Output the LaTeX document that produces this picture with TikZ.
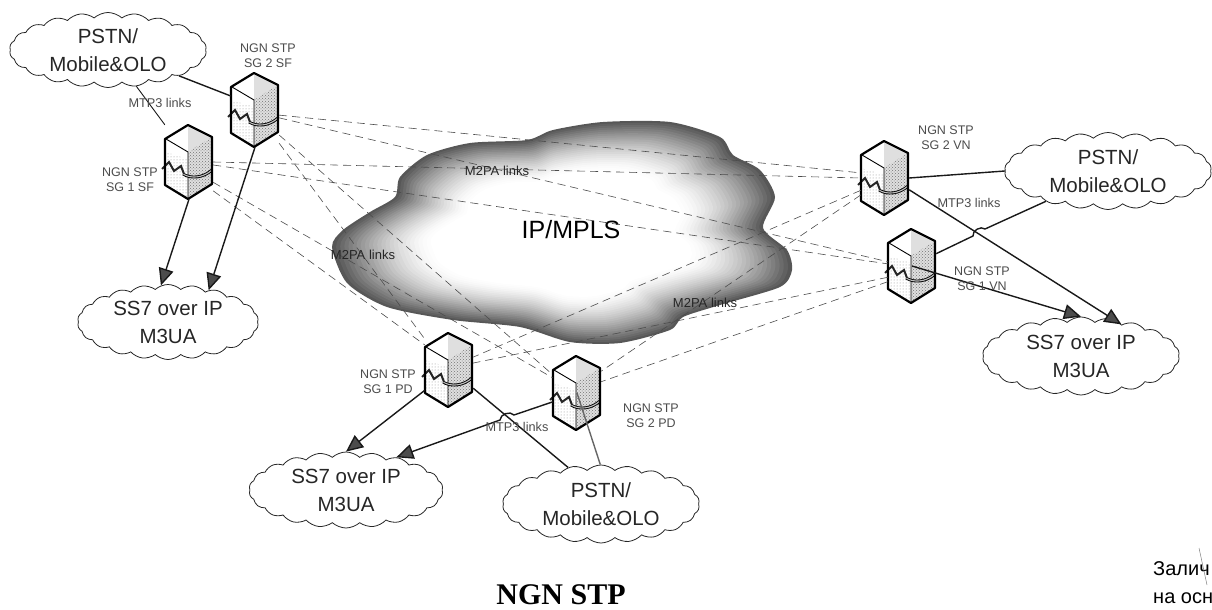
\documentclass[tikz,border=0pt]{standalone}
\usepackage{fontspec}
\setmainfont{Liberation Sans}
\newfontfamily\titlefont{Liberation Serif}
\usetikzlibrary{shapes.symbols,arrows.meta,patterns}

\newcommand{\stpserver}[3]{%
  \node [stpbox] (#1) at (#2,#3) {};
  \begin{scope}[shift={(#2,#3)}]
    \fill [gray!25] (-1,-37) -- (23,-25) -- (23,22) -- (-1,37) -- cycle;
    \fill [pattern=crosshatch dots, pattern color=black!55] (-1,-10) -- (23,-25) -- (23,22) -- (-1,37) -- cycle;
    \fill [pattern=dots, pattern color=black!45] (-24,-10) -- (-1,-3) -- (-1,37) -- (-24,23) -- cycle;
    \draw [line width=.9pt] (-23,-23) -- (-1,-10) -- (-1,36);
    \draw [stpband] (-6,12) .. controls (2,17) and (14,16) .. (23,8);
    \draw [stpflash] (-27,7) -- (-20,0) -- (-15,9) -- (-8,4) -- (-5,12);
    \draw [stpedge] (-1,-37) -- (23,-25) -- (23,22) -- (-1,37) -- (-24,23) -- (-24,-23) -- cycle;
  \end{scope}}
\newcommand{\ipoutline}{plot [smooth cycle, tension=.45] coordinates {(332,247) (343,230) (370,212)
  (395,197) (400,177) (427,155) (470,143) (527,140) (553,130) (603,122) (670,122) (720,137)
  (733,155) (760,170) (775,197) (763,228) (787,250) (792,270) (780,287) (720,305) (683,317)
  (670,330) (620,343) (570,342) (520,327) (453,320) (387,307) (347,283)}}

\begin{document}
\begin{tikzpicture}[x=1pt, y=-1pt,
    stpbox/.style={rectangle, minimum width=48, minimum height=74, inner sep=0},
    stpedge/.style={line width=2.2pt, line join=round},
    stpband/.style={line width=.9pt, double=gray!50, double distance=1.1pt},
    stpflash/.style={line width=2pt, black!85},
    netcloud/.style={cloud, cloud ignores aspect, cloud puffs=22, cloud puff arc=85, draw=black!85,
      line width=.8pt, inner sep=0, align=center, font=\fontsize{20.5}{28}\selectfont, text=black!85},
    m2pa/.style={dash pattern=on 8pt off 5pt, line width=.6pt, black!70},
    mtp/.style={line width=1.4pt, black!90},
    mtparrow/.style={mtp, -{Triangle[length=17pt, width=15pt, fill=black!70]}},
    stplabel/.style={align=center, inner sep=0, text=black!70, font=\fontsize{12.5}{15}\selectfont},
    linklabel/.style={inner sep=0, text=black!70, font=\fontsize{12.7}{15}\selectfont},
    m2palabel/.style={inner sep=0, text=black!85, font=\fontsize{13}{15}\selectfont}]
  \useasboundingbox (0,0) rectangle (1212,610);

  % core network
  \foreach \i in {0,...,24} {
    \pgfmathsetmacro{\s}{1-\i*.018}
    \pgfmathsetmacro{\g}{66*(1-\i/24)^1.5}
    \begin{scope}[shift={(560,235)}, scale=\s, shift={(-560,-235)}]
      \fill [black!\g] \ipoutline;
    \end{scope}
  }
  \node (ipmpls) at (571,230) [inner sep=0, font=\fontsize{25}{28}\selectfont] {IP/MPLS};

  \stpserver{sfb}{255}{110}
  \stpserver{sfa}{189}{162}
  \stpserver{vnb}{885}{178}
  \stpserver{vna}{912}{266}
  \stpserver{pda}{449}{370}
  \stpserver{pdb}{577}{393}

  % M2PA mesh
  \foreach \from/\to in {sfb.-12/vnb.168, sfb.-18/vna.170, sfb.-46/pdb.143, sfb.-54/pda.128,
      sfa.0/vnb.180, sfa.-7/vna.175, sfa.-40/pdb.148, sfa.-50/pda.134,
      vnb.207/pda.28, vnb.215/pdb.42, vna.205/pda.16, vna.213/pdb.25}
    \draw [m2pa] (\from) -- (\to);

  \node [netcloud, minimum width=197, minimum height=75] (pstnsf) at (108,50) {PSTN/\\Mobile\&OLO};
  \node [netcloud, minimum width=181, minimum height=75] (ssfsf) at (168,322) {SS7 over IP\\M3UA};
  \node [netcloud, minimum width=207, minimum height=77] (pstnvn) at (1108,171) {PSTN/\\Mobile\&OLO};
  \node [netcloud, minimum width=197, minimum height=78] (ssfvn) at (1081,356) {SS7 over IP\\M3UA};
  \node [netcloud, minimum width=194, minimum height=76] (ssfpd) at (346,490) {SS7 over IP\\M3UA};
  \node [netcloud, minimum width=197, minimum height=78] (pstnpd) at (601,504) {PSTN/\\Mobile\&OLO};

  % MTP3 links
  \coordinate (hopa) at (973,236);
  \coordinate (hopb) at (985,229);
  \coordinate (hopc) at (514,415);
  \coordinate (hopd) at (500,420);
  \draw [mtp] (pstnsf.-20) -- (sfb.150);
  \draw [mtp, line width=.9pt] (pstnsf.-52) -- (sfa.123);
  \draw [mtp] (vnb.east) -- (pstnvn.180);
  \draw [mtp] (vna.27) -- (hopa) to [bend left=70] (hopb) -- (pstnvn.206);
  \draw [mtp] (pda.-37) -- (pstnpd.132);
  \draw [mtp, black!60] (pdb.center) -- (pstnpd.91);
  \draw [mtparrow] (sfa.south) -- (ssfsf.101);
  \draw [mtparrow] (sfb.south) -- (ssfsf.38);
  \draw [mtparrow] (vnb.-26) -- (ssfvn.38);
  \draw [mtparrow] (vna.center) -- (ssfvn.90);
  \draw [mtparrow] (pda.220) -- (ssfpd.90);
  \draw [mtparrow] (pdb.200) -- (hopc) to [bend right=70] (hopd) -- (ssfpd.33);

  \node [stplabel] (lsfb) at (268,56) {NGN STP\\SG 2 SF};
  \node [stplabel] (lsfa) at (130,180) {NGN STP\\SG 1 SF};
  \node [stplabel] (lvnb) at (946,138) {NGN STP\\SG 2 VN};
  \node [stplabel] (lvna) at (982,279) {NGN STP\\SG 1 VN};
  \node [stplabel] (lpda) at (388,382) {NGN STP\\SG 1 PD};
  \node [stplabel] (lpdb) at (651,416) {NGN STP\\SG 2 PD};
  \node [linklabel] (mtpsf) at (160,103) {MTP3 links};
  \node [linklabel] (mtpvn) at (969,203) {MTP3 links};
  \node [linklabel] (mtppd) at (517,427) {MTP3 links};
  \node [m2palabel] (msf) at (497,171) {M2PA links};
  \node [m2palabel] (mpd) at (363,255) {M2PA links};
  \node [m2palabel] (mvn) at (705,303) {M2PA links};

  \node (title) at (561,595) [inner sep=0, font=\titlefont\bfseries\fontsize{30}{33}\selectfont] {NGN STP};
  \node (note) at (1153,583) [anchor=west, align=left, inner sep=0, font=\fontsize{20}{28}\selectfont] {Залич\\на осн};
  \draw [gray, line width=.5pt] (1199,548) -- (1207,585);
\end{tikzpicture}
\end{document}
